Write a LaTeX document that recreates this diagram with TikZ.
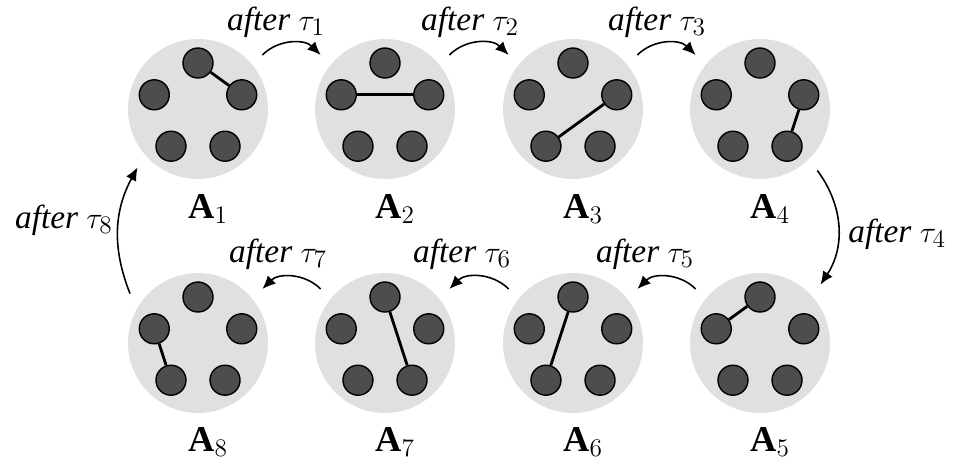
\documentclass[tikz,border=0pt]{standalone}
\usepackage{fontspec}
\setmainfont{Liberation Serif}
\usetikzlibrary{arrows.meta,positioning,calc}
\definecolor{fondo}{HTML}{E0E0E0}
\definecolor{nodo}{HTML}{4D4D4D}

\begin{document}
\begin{tikzpicture}[x=0.02cm, y=-0.02cm,
  disco/.style={circle, fill=fondo, minimum size=2.8cm, inner sep=0pt, outer sep=8pt},
  vert/.style={circle, draw=black, fill=nodo, line width=0.8pt, minimum size=0.6cm, inner sep=0pt},
  arista/.style={line width=1.6pt},
  flecha/.style={-{Latex[length=7.5pt,width=6.5pt]}, line width=0.9pt},
  paso/.style={font=\fontsize{19}{22}\selectfont\itshape, inner sep=0pt},
  nombre/.style={font=\fontsize{20.7}{24}\selectfont, inner sep=0pt, anchor=base}]
\useasboundingbox (0,0) rectangle (956,461);
% discos, fila de arriba y fila de abajo
\node[disco] (g1) at (198,109) {};
\node[disco] (g2) at (385,109) {};
\node[disco] (g3) at (573,109) {};
\node[disco] (g4) at (760,109) {};
\node[disco] (g5) at (760,343) {};
\node[disco] (g6) at (573,343) {};
\node[disco] (g7) at (385,343) {};
\node[disco] (g8) at (198,343) {};
% cinco vertices en cada disco
\foreach \g in {1,...,8}{
  \foreach \k/\a in {1/90,2/18,3/-54,4/-126,5/162}
    \node[vert] (g\g-\k) at ($(g\g.center)+(\a:0.92cm)$) {};
}
\draw[arista] (g1-1) -- (g1-2);
\draw[arista] (g2-5) -- (g2-2);
\draw[arista] (g3-4) -- (g3-2);
\draw[arista] (g4-2) -- (g4-3);
\draw[arista] (g5-5) -- (g5-1);
\draw[arista] (g6-1) -- (g6-4);
\draw[arista] (g7-1) -- (g7-3);
\draw[arista] (g8-5) -- (g8-4);
% nombres
\node[nombre] (n1) at (208,218) {$\mathbf{A}_1$};
\node[nombre] (n2) at (395,218) {$\mathbf{A}_2$};
\node[nombre] (n3) at (583,218) {$\mathbf{A}_3$};
\node[nombre] (n4) at (770,218) {$\mathbf{A}_4$};
\node[nombre] (n5) at (770,451) {$\mathbf{A}_5$};
\node[nombre] (n6) at (583,451) {$\mathbf{A}_6$};
\node[nombre] (n7) at (395,451) {$\mathbf{A}_7$};
\node[nombre] (n8) at (208,451) {$\mathbf{A}_8$};
% transiciones
\draw[flecha] (g1.40) to[bend left=45] (g2.140);
\draw[flecha] (g2.40) to[bend left=45] (g3.140);
\draw[flecha] (g3.40) to[bend left=45] (g4.140);
\draw[flecha] (g4.-47) to[bend left=35] (g5.44);
\draw[flecha] (g5.140) to[bend right=45] (g6.40);
\draw[flecha] (g6.140) to[bend right=45] (g7.40);
\draw[flecha] (g7.140) to[bend right=45] (g8.40);
\draw[flecha] (g8.144) to[bend left=25] (g1.224);
\node[paso, anchor=base] (t1) at (276,30) {after $\tau_1$};
\node[paso, anchor=base] (t2) at (470,30) {after $\tau_2$};
\node[paso, anchor=base] (t3) at (657,30) {after $\tau_3$};
\node[paso, anchor=base west] (t4) at (848,242) {after $\tau_4$};
\node[paso, anchor=base] (t5) at (645,262) {after $\tau_5$};
\node[paso, anchor=base] (t6) at (462,262) {after $\tau_6$};
\node[paso, anchor=base] (t7) at (278,262) {after $\tau_7$};
\node[paso, anchor=base east] (t8) at (113,228) {after $\tau_8$};
\end{tikzpicture}
\end{document}
